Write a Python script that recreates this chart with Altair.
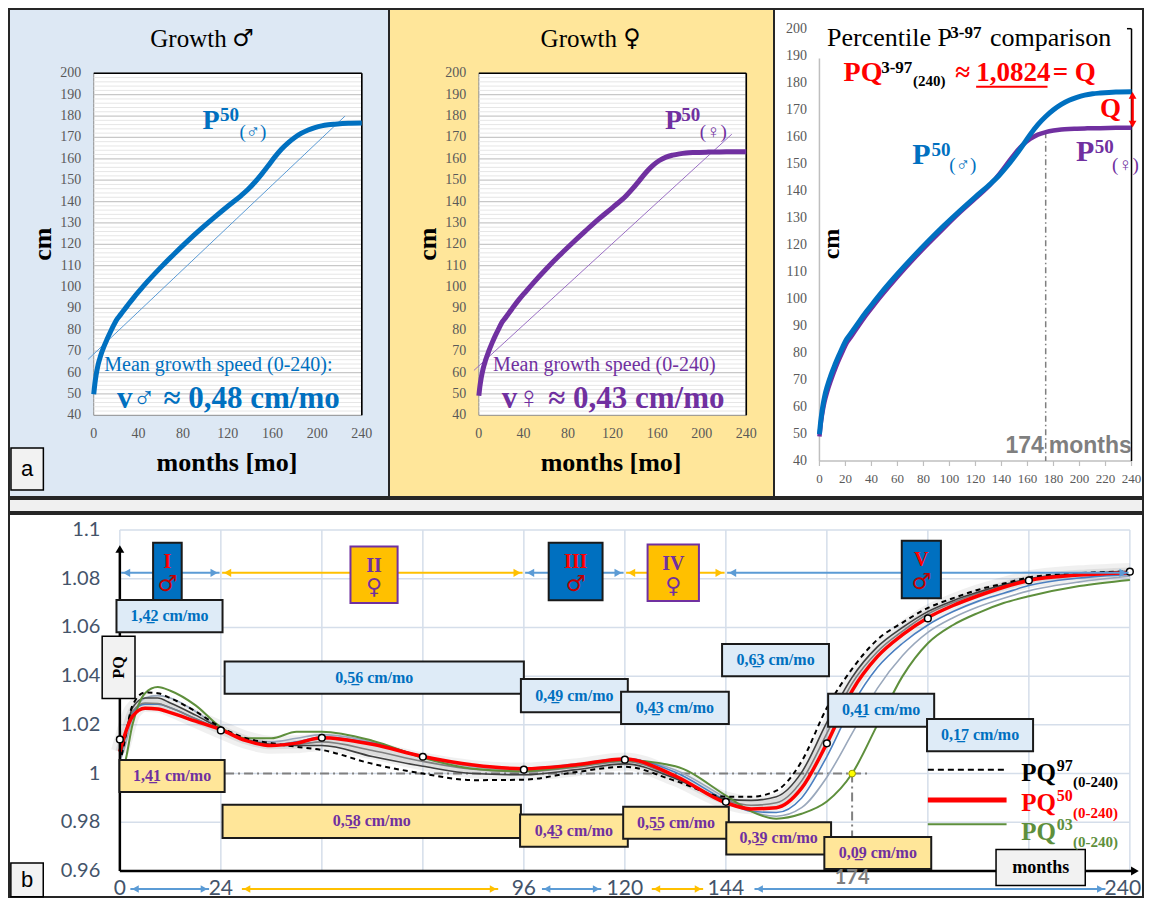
import altair as alt
import pandas as pd

# ===================== DATA =====================
months = [0, 1, 2, 3, 4, 6, 9, 12, 15, 18, 21, 24, 30, 36, 42, 48, 60, 72, 84, 96,
          108, 120, 132, 138, 144, 150, 156, 162, 168, 174, 180, 186, 192, 198, 204,
          210, 216, 228, 240]
boys_p50 = [49.9, 54.7, 58.4, 61.4, 63.9, 67.6, 72.0, 75.7, 79.1, 82.3,
            85.1, 87.1, 91.2, 95.2, 98.9, 102.5, 109.2, 115.5, 121.5, 127.2,
            132.6, 137.8, 142.8, 145.6, 148.9, 152.6, 156.6, 160.8, 164.5, 167.5,
            170.0, 172.0, 173.5, 174.6, 175.4, 175.9, 176.2, 176.6, 176.7]
girls_p50 = [49.1, 53.7, 57.1, 59.8, 62.1, 65.7, 70.1, 74.0, 77.5, 80.7,
             83.7, 85.7, 90.0, 94.1, 97.8, 101.4, 108.2, 114.6, 120.6, 126.4,
             132.0, 137.2, 142.6, 146.0, 149.8, 153.6, 156.8, 159.2, 160.8, 161.7,
             162.3, 162.7, 162.9, 163.0, 163.1, 163.2, 163.2, 163.3, 163.3]
trend_boys_m = [-5.0, 225.0]
trend_boys_cm = [66.2, 180.0]
trend_girls_m = [-4.4, 227.0]
trend_girls_cm = [61.0, 171.5]
mean_speed_boys = "0,48"
mean_speed_girls = "0,43"
q_label = "1,0824"
q_value = 1.0824
cross_month = 174
cm_ticks = [40, 50, 60, 70, 80, 90, 100, 110, 120, 130, 140, 150, 160, 170, 180, 190, 200]
month_ticks_a = [0, 40, 80, 120, 160, 200, 240]
month_ticks_c = [0, 20, 40, 60, 80, 100, 120, 140, 160, 180, 200, 220, 240]

pq_months = [0, 1, 3, 6, 9, 12, 18, 24, 30, 36, 42, 48, 60, 72, 84, 96, 108, 120, 132, 144,
             150, 156, 162, 168, 174, 180, 186, 192, 198, 204, 210, 216, 228, 240]
pq03 = [1.0, 1.003, 1.02, 1.033, 1.0355, 1.034, 1.028, 1.019, 1.0145, 1.0145,
        1.0172, 1.0172, 1.0135, 1.0065, 1.002, 1.001, 1.003, 1.0055, 1.003, 0.991,
        0.9845, 0.9815, 0.9835, 0.9885, 1.0, 1.02, 1.04, 1.0535, 1.061, 1.066,
        1.07, 1.0728, 1.077, 1.0795]
pq10 = [1.005, 1.01, 1.023, 1.031, 1.032, 1.031, 1.0255, 1.0185, 1.014, 1.013,
        1.0145, 1.016, 1.013, 1.007, 1.0028, 1.0015, 1.0033, 1.0058, 1.0015, 0.99,
        0.9845, 0.9825, 0.986, 0.9985, 1.0165, 1.035, 1.0485, 1.058, 1.064, 1.0685,
        1.072, 1.075, 1.0787, 1.081]
pq25 = [1.01, 1.015, 1.025, 1.0285, 1.0285, 1.027, 1.0225, 1.018, 1.0135, 1.0118,
        1.013, 1.015, 1.0125, 1.0072, 1.0035, 1.0022, 1.0038, 1.0062, 1.0005, 0.989,
        0.9845, 0.984, 0.99, 1.007, 1.028, 1.0435, 1.0535, 1.061, 1.0665, 1.0708,
        1.074, 1.0772, 1.0803, 1.0818]
pq50 = [1.009, 1.015, 1.0235, 1.0268, 1.0265, 1.025, 1.0215, 1.018, 1.0135, 1.0115,
        1.0125, 1.0147, 1.012, 1.007, 1.0035, 1.002, 1.0035, 1.006, 0.999, 0.988,
        0.9855, 0.986, 0.994, 1.0124, 1.034, 1.048, 1.057, 1.064, 1.069, 1.073,
        1.0765, 1.0793, 1.0815, 1.0825]
pq75 = [1.009, 1.015, 1.0255, 1.029, 1.0288, 1.027, 1.0225, 1.018, 1.0138, 1.0118,
        1.012, 1.013, 1.0095, 1.005, 1.0018, 1.0008, 1.0025, 1.005, 0.9985, 0.989,
        0.987, 0.988, 0.997, 1.0165, 1.037, 1.05, 1.0585, 1.0655, 1.0702, 1.074,
        1.077, 1.0797, 1.0818, 1.0828]
pq90 = [1.006, 1.013, 1.027, 1.031, 1.031, 1.029, 1.024, 1.0185, 1.014, 1.012,
        1.0115, 1.0115, 1.007, 1.003, 1.0, 0.9995, 1.0015, 1.004, 0.998, 0.9895,
        0.989, 0.9905, 1.0005, 1.021, 1.0395, 1.052, 1.06, 1.0665, 1.071, 1.0745,
        1.0775, 1.08, 1.082, 1.083]
pq97 = [1.004, 1.012, 1.028, 1.0333, 1.033, 1.031, 1.0255, 1.019, 1.0145, 1.0125,
        1.011, 1.0097, 1.004, 1.0, 0.9973, 0.9975, 1.0005, 1.0028, 0.997, 0.9905,
        0.9905, 0.993, 1.005, 1.027, 1.043, 1.055, 1.062, 1.068, 1.072, 1.0755,
        1.078, 1.0805, 1.0823, 1.083]
ref_months = [0, 24, 48, 72, 96, 120, 144, 168, 192, 216, 240]
ref_pq = [1.014, 1.0177, 1.0147, 1.0069, 1.0016, 1.0057, 0.9884, 1.0124, 1.0637, 1.0793, 1.0829]
pq_ticks = [0.96, 0.98, 1.0, 1.02, 1.04, 1.06, 1.08, 1.1]
MALE, FEMALE = "\u2642", "\u2640"
phase_names = ["I", "II", "III", "IV", "V"]
phase_sex = [MALE, FEMALE, MALE, FEMALE, MALE]
phase_start = [0, 24, 96, 120, 144]
phase_end = [24, 96, 120, 144, 240]
speed_boys = ["1,42", "0,56", "0,49", "0,43", "0,63", "0,41", "0,17"]
speed_girls = ["1,41", "0,58", "0,43", "0,55", "0,39", "0,09"]

# ===================== STYLE / LAYOUT =====================
SERIF = "Liberation Serif, DejaVu Sans, serif"
SANS = "Liberation Sans, DejaVu Sans, sans-serif"
SYM = "DejaVu Sans, sans-serif"
CAL = "Lato, Liberation Sans, sans-serif"
BLUE, PURPLE, RED, GREEN = "#0070c0", "#7030a0", "#ff0000", "#5e8f3c"
FRAME = "#262626"
TICKGRAY = "#595959"
W1, W2, W3, WB = 380, 385, 369, 1134
HA, HS, HB = 488, 13, 383


def sc(lo, hi):
    return alt.Scale(domain=[lo, hi], nice=False, zero=False)


def _df(**cols):
    n = max(len(v) if isinstance(v, (list, tuple)) else 1 for v in cols.values())
    return pd.DataFrame({k: (list(v) if isinstance(v, (list, tuple)) else [v] * n)
                         for k, v in cols.items()})


def enc(sx, sy):
    return dict(x=alt.X("x:Q", scale=sx, axis=None), y=alt.Y("y:Q", scale=sy, axis=None))


def T(sx, sy, xs, ys, ts, colors=None, **p):
    if colors is None:
        return alt.Chart(_df(x=xs, y=ys, t=ts)).mark_text(**p).encode(text="t:N", **enc(sx, sy))
    return alt.Chart(_df(x=xs, y=ys, t=ts, c=colors)).mark_text(**p).encode(
        text="t:N", color=alt.Color("c:N", scale=None), **enc(sx, sy))


def R(sx, sy, x1, y1, x2, y2, colors=None, **p):
    if colors is None:
        return alt.Chart(_df(x=x1, y=y1, x2=x2, y2=y2)).mark_rule(**p).encode(
            x2="x2", y2="y2", **enc(sx, sy))
    return alt.Chart(_df(x=x1, y=y1, x2=x2, y2=y2, c=colors)).mark_rule(**p).encode(
        x2="x2", y2="y2", color=alt.Color("c:N", scale=None), **enc(sx, sy))


def B(sx, sy, x1, y1, x2, y2, fill, stroke, sw=1.5):
    return alt.Chart(_df(x=x1, y=y1, x2=x2, y2=y2, f=fill, s=stroke)).mark_rect(strokeWidth=sw).encode(
        x2="x2", y2="y2", fill=alt.Fill("f:N", scale=None), stroke=alt.Stroke("s:N", scale=None),
        **enc(sx, sy))


def L(sx, sy, xs, ys, **p):
    return alt.Chart(_df(x=xs, y=ys)).mark_line(**p).encode(**enc(sx, sy))


def P(sx, sy, xs, ys, colors=None, **p):
    if colors is None:
        return alt.Chart(_df(x=xs, y=ys)).mark_point(opacity=1, **p).encode(**enc(sx, sy))
    return alt.Chart(_df(x=xs, y=ys, c=colors)).mark_point(opacity=1, filled=True, **p).encode(
        color=alt.Color("c:N", scale=None), **enc(sx, sy))


def fmt(v):
    return format(v, "g")


# ---------------- panel a (growth panels) ----------------
sy_a = sc(1.78, 230.08)
minor_cm = [v for v in range(cm_ticks[0] + 2, cm_ticks[-1], 2) if v % 10]
major_cm = cm_ticks[1:-1]


def growth_base(sx, ylab_x, curve, col, trend_m, trend_cm, tcol):
    return [
        B(sx, sy_a, 0, 40, 240, 200, "#ffffff", "#8c8c8c", 1),
        R(sx, sy_a, 0, minor_cm, 240, minor_cm, color="#e6e6e6", strokeWidth=1),
        R(sx, sy_a, 0, major_cm, 240, major_cm, color="#c8c8c8", strokeWidth=1.3),
        R(sx, sy_a, [0, 240], [200, 40], [240, 240], [200, 200], color="#000000", strokeWidth=1.6),
        T(sx, sy_a, ylab_x, cm_ticks, [str(v) for v in cm_ticks], font=SERIF, fontSize=14,
          color=TICKGRAY, align="right", baseline="middle"),
        T(sx, sy_a, month_ticks_a, 31.4, [str(v) for v in month_ticks_a], font=SERIF, fontSize=14,
          color=TICKGRAY, align="center", baseline="middle"),
        L(sx, sy_a, trend_m, trend_cm, color=tcol, strokeWidth=1),
        L(sx, sy_a, months, curve, color=col, strokeWidth=5, interpolate="monotone"),
    ]


def ttl(sx, x, y, s, **p):
    base = dict(font=SERIF, color="#000000", align="center", baseline="middle")
    base.update(p)
    return T(sx, sy_a, [x], [y], [s], **base)


sx1 = sc(-75.87, 264.35)
p1_layers = growth_base(sx1, -11.1, boys_p50, BLUE, trend_boys_m, trend_boys_cm, "#5b9bd5") + [
    ttl(sx1, 119.0, 216.0, "Growth", fontSize=25, align="right"),
    ttl(sx1, 124.0, 216.0, MALE, font=SYM, fontSize=24, align="left"),
    ttl(sx1, -45.1, 120.1, "cm", fontSize=26, fontWeight="bold", angle=270),
    ttl(sx1, 119.3, 17.7, "months [mo]", fontSize=26, fontWeight="bold"),
    B(sx1, sy_a, -74.1, 5.05, -45.1, 24.7, "#f2f2f2", "#000000", 1.5),
    ttl(sx1, -59.6, 14.9, "a", font=SANS, fontSize=22),
    ttl(sx1, 97.3, 173.9, "P", fontSize=28, fontWeight="bold", color=BLUE, align="left", baseline="alphabetic"),
    ttl(sx1, 113.1, 177.7, "50", fontSize=19, fontWeight="bold", color=BLUE, align="left", baseline="alphabetic"),
    ttl(sx1, 130.5, 169.9, "(" + MALE + ")", fontSize=19, color=BLUE, align="left", baseline="alphabetic"),
    ttl(sx1, 9.4, 60.7, "Mean growth speed (0-240):", fontSize=20, color=BLUE, align="left", baseline="alphabetic"),
    ttl(sx1, 20.8, 43.4, "v" + MALE + " \u2248 " + mean_speed_boys + " cm/mo", fontSize=31, fontWeight="bold",
        color=BLUE, align="left", baseline="alphabetic"),
]

sx2 = sc(-80.62, 264.88)
p2_layers = growth_base(sx2, -11.2, girls_p50, PURPLE, trend_girls_m, trend_girls_cm, "#9a6fc4") + [
    ttl(sx2, 124.0, 216.0, "Growth", fontSize=25, align="right"),
    ttl(sx2, 129.5, 216.0, FEMALE, font=SYM, fontSize=24, align="left"),
    ttl(sx2, -45.4, 120.1, "cm", fontSize=26, fontWeight="bold", angle=270),
    ttl(sx2, 118.7, 17.7, "months [mo]", fontSize=26, fontWeight="bold"),
    ttl(sx2, 167.0, 173.9, "P", fontSize=28, fontWeight="bold", color=PURPLE, align="left", baseline="alphabetic"),
    ttl(sx2, 181.6, 177.7, "50", fontSize=19, fontWeight="bold", color=PURPLE, align="left", baseline="alphabetic"),
    ttl(sx2, 198.3, 169.9, "(" + FEMALE + ")", fontSize=19, color=PURPLE, align="left", baseline="alphabetic"),
    ttl(sx2, 12.6, 60.7, "Mean growth speed (0-240)", fontSize=20, color=PURPLE, align="left", baseline="alphabetic"),
    ttl(sx2, 20.5, 43.4, "v" + FEMALE + " \u2248 " + mean_speed_girls + " cm/mo", fontSize=31, fontWeight="bold",
        color=PURPLE, align="left", baseline="alphabetic"),
]

# ---------------- panel a, comparison ----------------
sx3 = sc(-34.94, 248.83)
sy3 = sc(26.68, 207.29)


def t3(x, y, s, **p):
    base = dict(font=SERIF, color="#000000", align="left", baseline="alphabetic")
    base.update(p)
    return T(sx3, sy3, [x], [y], [s], **base)


p3_layers = [
    R(sx3, sy3, 0, 40, 240, 40, color="#bfbfbf", strokeWidth=1.5),
    R(sx3, sy3, 0, 40, 0, 189, color="#bfbfbf", strokeWidth=1.5),
    R(sx3, sy3, month_ticks_c, 40, month_ticks_c, 38.15, color="#bfbfbf", strokeWidth=1.2),
    T(sx3, sy3, -9.5, cm_ticks, [str(v) for v in cm_ticks], font=SERIF, fontSize=14,
      color=TICKGRAY, align="right", baseline="middle"),
    T(sx3, sy3, month_ticks_c, 33.3, [str(v) for v in month_ticks_c], font=SERIF, fontSize=13,
      color=TICKGRAY, align="center", baseline="middle"),
    R(sx3, sy3, [240, 236.5], [40, 200], [240, 240], [200, 200], color="#000000", strokeWidth=1.5),
    R(sx3, sy3, cross_month, 161.7, cross_month, 40, color="#7f7f7f", strokeWidth=1.5, strokeDash=[6, 3, 1.5, 3]),
    L(sx3, sy3, months, girls_p50, color=PURPLE, strokeWidth=4.5, interpolate="monotone"),
    L(sx3, sy3, months, boys_p50, color=BLUE, strokeWidth=5, interpolate="monotone"),
    t3(5.8, 193.6, "Percentile P", fontSize=26),
    t3(100.6, 196.6, "3-97", fontSize=17, fontWeight="bold"),
    t3(131.1, 193.6, "comparison", fontSize=26),
    t3(18.6, 180.6, "PQ", fontSize=28, fontWeight="bold", color=RED),
    t3(47.5, 183.6, "3-97", fontSize=17, fontWeight="bold"),
    t3(72.0, 178.8, "(240)", fontSize=15, fontWeight="bold"),
    t3(104.5, 180.6, "\u2248", fontSize=27, fontWeight="bold", color=RED),
    t3(120.5, 180.6, q_label, fontSize=27, fontWeight="bold", color=RED),
    R(sx3, sy3, 120.5, 178.5, 175.4, 178.5, color=RED, strokeWidth=2),
    t3(179.4, 180.6, "= Q", fontSize=27, fontWeight="bold", color=RED),
    t3(215.7, 170.3, "Q", fontSize=27, fontWeight="bold", color=RED, baseline="middle"),
    R(sx3, sy3, 240.8, 175.0, 240.8, 165.0, color=RED, strokeWidth=2.5),
    P(sx3, sy3, [240.8], [175.3], colors=[RED], shape="triangle-up", size=60),
    P(sx3, sy3, [240.8], [164.7], colors=[RED], shape="triangle-down", size=60),
    t3(71.4, 149.9, "P", fontSize=30, fontWeight="bold", color=BLUE),
    t3(86.1, 152.9, "50", fontSize=19, fontWeight="bold", color=BLUE),
    t3(99.9, 147.3, "(" + MALE + ")", fontSize=19, color=BLUE),
    t3(197.3, 151.0, "P", fontSize=30, fontWeight="bold", color=PURPLE),
    t3(211.8, 154.1, "50", fontSize=19, fontWeight="bold", color=PURPLE),
    t3(225.0, 147.3, "(" + FEMALE + ")", fontSize=19, color=PURPLE),
    t3(9.4, 120.3, "cm", fontSize=24, fontWeight="bold", angle=270, align="center", baseline="middle"),
    t3(172.6, 43.0, str(cross_month), font=SANS, fontSize=23, fontWeight="bold", color="#7f7f7f", align="right"),
    t3(176.4, 43.0, "months", font=SANS, fontSize=23, fontWeight="bold", color="#7f7f7f"),
]

# ---------------- panel b ----------------
sxb = sc(-26.34, 243.12)
syb = sc(0.949326, 1.106569)
GRID = "#d5deea"


def tb(xs, ys, ts, colors=None, **p):
    base = dict(font=SERIF, align="center", baseline="middle")
    base.update(p)
    return T(sxb, syb, xs, ys, ts, colors=colors, **base)


def curve(vals, **p):
    return L(sxb, syb, pq_months, vals, interpolate="monotone", **p)


# speed boxes (layout positions)
bb_x1 = [-0.8, 24.9, 95.3, 119.1, 143.1, 168.3, 191.8]
bb_x2 = [24.4, 96.0, 120.7, 144.7, 168.5, 193.5, 217.0]
bb_top = [1.0713, 1.046, 1.0388, 1.0336, 1.0532, 1.0328, 1.0224]
bb_bot = [1.058, 1.0328, 1.0252, 1.0204, 1.040, 1.0192, 1.0092]
gb_x1 = [-0.1, 24.4, 95.1, 119.6, 144.1, 167.4]
gb_x2 = [24.9, 95.3, 120.7, 144.7, 169.0, 192.8]
gb_top = [1.0056, 0.9872, 0.9832, 0.9864, 0.980, 0.974]
gb_bot = [0.9924, 0.9736, 0.970, 0.9732, 0.9668, 0.9608]
ph_x1 = [7.9, 54.8, 101.9, 125.4, 185.8]
ph_x2 = [14.7, 66.0, 114.7, 137.6, 195.1]
ph_top = [1.0948, 1.0932, 1.0948, 1.094, 1.0956]
ph_bot = [1.0712, 1.070, 1.0712, 1.0708, 1.072]
bot_x1 = [2.5, 29.0, 100.3, 126.4, 150.8]
bot_x2 = [21.2, 89.9, 114.4, 138.6, 234.2]
Y_BOT = 0.95261


def speed_txt(s):
    return s[:3] + "\u0332" + s[3:] + " cm/mo"


is_m = [s == MALE for s in phase_sex]
arr_col = ["#5b9bd5" if m else "#ffc000" for m in is_m]
ph_fill = [BLUE if m else "#ffc000" for m in is_m]
ph_stroke = ["#1a1a1a" if m else PURPLE for m in is_m]
num_col = [RED if m else PURPLE for m in is_m]
sym_col = ["#c00000" if m else PURPLE for m in is_m]
ph_cx = [(a + b) / 2 for a, b in zip(ph_x1, ph_x2)]
bot_ticks = sorted(set(phase_start + phase_end))

b_layers = [
    R(sxb, syb, ref_months, 0.96, ref_months, 1.1, color=GRID, strokeWidth=1.5),
    R(sxb, syb, 0, pq_ticks, 240, pq_ticks, color=GRID, strokeWidth=1.5),
    tb(-4.66, pq_ticks, [fmt(v) for v in pq_ticks], font=CAL, fontSize=20, color="#44546a", align="right"),
    R(sxb, syb, [25, cross_month], [1.0, 1.0], [178, cross_month], [1.0, 0.96],
      color="#808080", strokeWidth=2, strokeDash=[9, 4, 2, 4]),
    curve(pq75, color="#000000", opacity=0.06, strokeWidth=18),
    curve(pq75, color="#000000", opacity=0.08, strokeWidth=9),
    curve(pq10, color="#9aa8bc", strokeWidth=1.6),
    curve(pq25, color="#4a7fc1", strokeWidth=1.6),
    curve(pq75, color="#7f7f7f", strokeWidth=1.6),
    curve(pq90, color="#404040", strokeWidth=1.6),
    curve(pq03, color=GREEN, strokeWidth=2),
    curve(pq97, color="#000000", strokeWidth=2, strokeDash=[5, 4]),
    curve(pq50, color=RED, strokeWidth=3.5),
    # axis arrows
    R(sxb, syb, [0, 0], [0.96, 0.96], [0, 240.8], [1.0912, 0.96], color="#000000", strokeWidth=2.5),
    P(sxb, syb, [0], [1.0922], colors=["#000000"], shape="triangle-up", size=80),
    P(sxb, syb, [241.2], [0.96], colors=["#000000"], shape="triangle-right", size=80),
    # reference dots
    P(sxb, syb, ref_months, ref_pq, shape="circle", filled=True, fill="#ffffff", stroke="#000000",
      strokeWidth=1.5, size=45),
    P(sxb, syb, [cross_month], [1.0], shape="circle", filled=True, fill="#ffff00", stroke="#9a9a00",
      strokeWidth=1, size=45),
    # phase arrows at Q
    R(sxb, syb, [s + 0.3 for s in phase_start], q_value, [e - 0.3 for e in phase_end], q_value,
      colors=arr_col, strokeWidth=2),
    P(sxb, syb, [s + 1.6 for s in phase_start], [q_value] * 5, colors=arr_col, shape="triangle-left", size=70),
    P(sxb, syb, [e - 1.6 for e in phase_end], [q_value] * 5, colors=arr_col, shape="triangle-right", size=70),
    # phase boxes
    B(sxb, syb, ph_x1, ph_top, ph_x2, ph_bot, ph_fill, ph_stroke, 2),
    tb(ph_cx, [t - 0.0078 for t in ph_top], phase_names, colors=num_col, fontSize=20, fontWeight="bold"),
    tb(ph_cx, [t - 0.0168 for t in ph_top], phase_sex, colors=sym_col, font=SYM, fontSize=22),
    # speed boxes
    B(sxb, syb, bb_x1, bb_top, bb_x2, bb_bot, "#deebf7", "#1a1a1a", 2),
    tb([(a + b) / 2 for a, b in zip(bb_x1, bb_x2)], [(a + b) / 2 for a, b in zip(bb_top, bb_bot)],
       [speed_txt(s) for s in speed_boys], fontSize=16, fontWeight="bold", color=BLUE),
    B(sxb, syb, gb_x1, gb_top, gb_x2, gb_bot, "#ffe699", "#1a1a1a", 2),
    tb([(a + b) / 2 for a, b in zip(gb_x1, gb_x2)], [(a + b) / 2 for a, b in zip(gb_top, gb_bot)],
       [speed_txt(s) for s in speed_girls], fontSize=16, fontWeight="bold", color=PURPLE),
    # PQ and months boxes
    B(sxb, syb, -4.2, 1.0564, 3.6, 1.0308, "#f2f2f2", "#000000", 1.5),
    tb([-0.3], [1.0436], ["PQ"], fontSize=16, fontWeight="bold", angle=270, color="#000000"),
    B(sxb, syb, 208.2, 0.9688, 229.4, 0.954, "#f2f2f2", "#000000", 1.5),
    tb([218.8], [0.9614], ["months"], fontSize=18, fontWeight="bold", color="#000000"),
    # legend
    R(sxb, syb, 192, 1.0016, 210.7, 1.0016, color="#000000", strokeWidth=2, strokeDash=[6, 4]),
    R(sxb, syb, 192, 0.9892, 210.7, 0.9892, color=RED, strokeWidth=5),
    R(sxb, syb, 192, 0.9792, 210.7, 0.9792, color=GREEN, strokeWidth=2),
    tb([214.2] * 3, [1.0004, 0.988, 0.976], ["PQ"] * 3, colors=["#000000", RED, GREEN],
       fontSize=25, fontWeight="bold", align="left"),
    tb([222.6] * 3, [1.0032, 0.9908, 0.9788], ["97", "50", "03"], colors=["#000000", RED, GREEN],
       fontSize=16, fontWeight="bold", align="left"),
    tb([226.5] * 3, [0.9964, 0.984, 0.972], ["(0-240)"] * 3, colors=["#000000", RED, GREEN],
       fontSize=15, fontWeight="bold", align="left"),
    # bottom labels and arrows
    tb([cross_month], [0.9572], [str(cross_month)], font=CAL, fontSize=20, fontWeight="bold", color="#7f7f7f"),
    tb(bot_ticks[:-1], [Y_BOT] * (len(bot_ticks) - 1), [str(t) for t in bot_ticks[:-1]],
       font=CAL, fontSize=21, color="#44546a"),
    tb([bot_ticks[-1]], [Y_BOT], [str(bot_ticks[-1])], font=CAL, fontSize=21, color="#44546a", dx=-7),
    R(sxb, syb, bot_x1, Y_BOT, bot_x2, Y_BOT, colors=arr_col, strokeWidth=1.8),
    P(sxb, syb, [a + 1.2 for a in bot_x1], [Y_BOT] * 5, colors=arr_col, shape="triangle-left", size=60),
    P(sxb, syb, [b - 1.2 for b in bot_x2], [Y_BOT] * 5, colors=arr_col, shape="triangle-right", size=60),
    # panel letter
    B(sxb, syb, -25.9, 0.96328, -18.2, 0.9494, "#f2f2f2", "#000000", 1.5),
    tb([-22.05], [0.9563], ["b"], font=SANS, fontSize=22, color="#000000"),
]


def view(fill):
    return alt.ViewBackground(fill=fill, stroke=FRAME, strokeWidth=2)


p1 = alt.layer(*p1_layers).properties(width=W1, height=HA, view=view("#dde8f4"))
p2 = alt.layer(*p2_layers).properties(width=W2, height=HA, view=view("#ffe69a"))
p3 = alt.layer(*p3_layers).properties(width=W3, height=HA, view=view("#ffffff"))
strip = alt.Chart(_df(x=[0.5], y=[0.5])).mark_point(opacity=0, size=1).encode(
    x=alt.X("x:Q", axis=None, scale=sc(0, 1)), y=alt.Y("y:Q", axis=None, scale=sc(0, 1))
).properties(width=WB, height=HS, view=view("#f0f0f0"))
pb = alt.layer(*b_layers).properties(width=WB, height=HB, view=view("#ffffff"))

top = alt.hconcat(p1, p2, p3, spacing=0, bounds="flush")
chart = alt.vconcat(top, strip, pb, spacing=0).properties(
    padding={"left": 0, "top": 0, "right": 0, "bottom": 0}
).configure(background="#ffffff")

chart.save("out.html", embed_options={"renderer": "svg", "actions": False})
